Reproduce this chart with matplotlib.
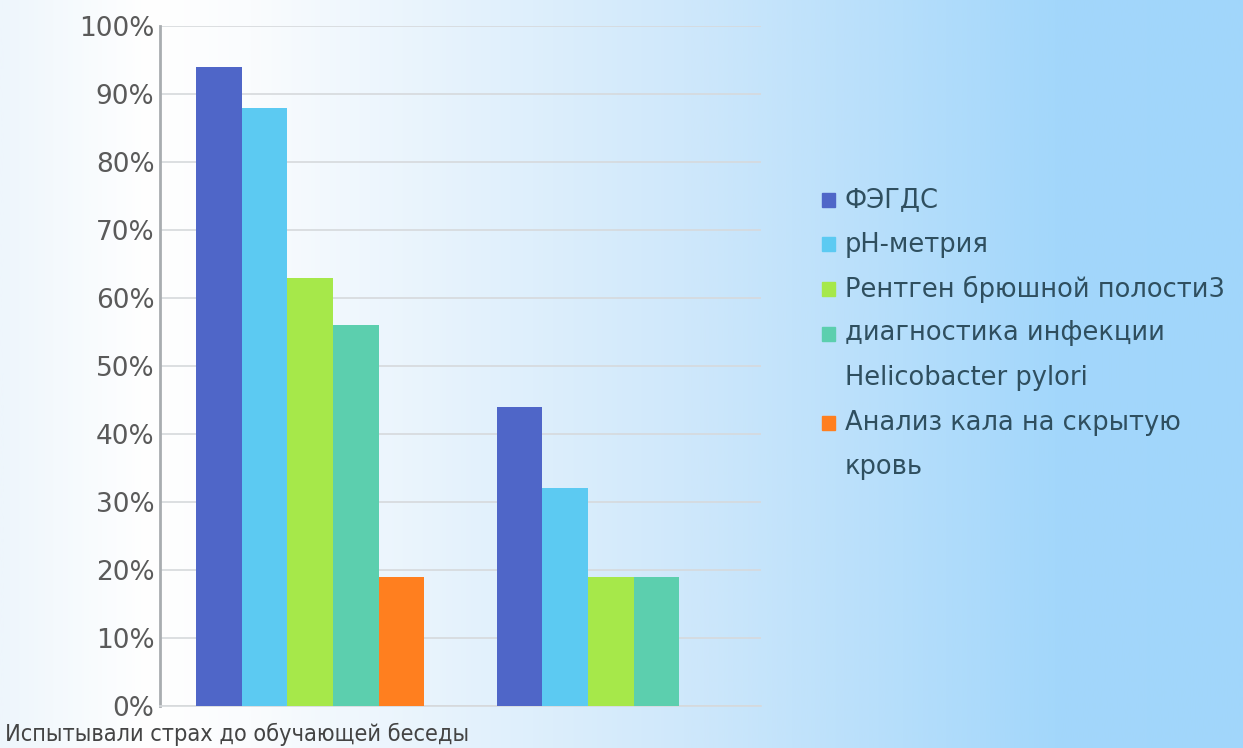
import numpy as np
import matplotlib
matplotlib.use("Agg")
import matplotlib.pyplot as plt
from matplotlib import font_manager
from matplotlib.colors import LinearSegmentedColormap
from matplotlib.patches import Rectangle

categories = ["Испытывали страх до обучающей беседы", ""]
series_names = [
    "ФЭГДС",
    "pH-метрия",
    "Рентген брюшной полости3",
    "диагностика инфекции\nHelicobacter pylori",
    "Анализ кала на скрытую\nкровь",
]
values = [
    [94, 44],
    [88, 32],
    [63, 19],
    [56, 19],
    [19, 0],
]
colors = ["#4f66c8", "#5ccaf2", "#a6e84a", "#5ccfae", "#ff7f1f"]
y_ticks = list(range(0, 101, 10))

# pick a narrow face for the category caption if one is around
fonts = font_manager.fontManager.ttflist
narrow = {"family": "DejaVu Sans", "fontstretch": "normal", "fontsize": 14.5}
if any(f.name == "DejaVu Sans" and f.stretch == "condensed" for f in fonts):
    narrow = {"family": "DejaVu Sans", "fontstretch": "condensed", "fontsize": 16.8}
elif any(f.name == "Liberation Sans Narrow" for f in fonts):
    narrow = {"family": "Liberation Sans Narrow", "fontstretch": "normal", "fontsize": 18}

W, H = 1243, 748
fig = plt.figure(figsize=(W / 100, H / 100), dpi=100)

# background: white on the left fading into light sky blue
bg = fig.add_axes([0, 0, 1, 1], zorder=-10)
cmap = LinearSegmentedColormap.from_list(
    "sky", [(0.0, "#eef6fc"), (0.12, "#ffffff"), (0.2, "#fafcfe"),
            (0.55, "#cfe8fb"), (0.85, "#a3d7fb"), (1.0, "#a1d6fb")])
grad = np.linspace(0, 1, 512).reshape(1, -1)
bg.imshow(grad, aspect="auto", cmap=cmap, extent=[0, 1, 0, 1])
bg.axis("off")

ax = fig.add_axes([160 / W, 42 / H, 601 / W, 680 / H])
ax.patch.set_alpha(0)

x = np.arange(len(categories))
width = 0.152
for i, (name, vals) in enumerate(zip(series_names, values)):
    offset = (i - (len(series_names) - 1) / 2) * width
    ax.bar(x + offset, vals, width, color=colors[i], linewidth=0,
           label=name, zorder=3)

ax.set_xlim(-0.5, 1.5)
ax.set_ylim(0, 100)
ax.set_yticks(y_ticks)
ax.set_yticklabels([f"{t}%" for t in y_ticks], fontsize=19, color="#5a5a5a")
ax.tick_params(axis="y", length=0, pad=4)
ax.set_xticks([])
ax.grid(axis="y", color="#d6d9dc", linewidth=1.2, zorder=0)

for side in ["top", "right"]:
    ax.spines[side].set_visible(False)
ax.spines["left"].set_color("#a9adb0")
ax.spines["left"].set_linewidth(2)
ax.spines["bottom"].set_color("#d6d9dc")
ax.spines["bottom"].set_linewidth(1.2)

fig.text(5 / W, 1 - 734 / H, categories[0], ha="left", va="center",
         color="#444444", **narrow)

# legend drawn by hand: one line every 44.5 px, wrapped names included
line_px = 44.5
line_no = 0
for name, color in zip(series_names, colors):
    y_px = 200 + line_no * line_px
    fig.patches.append(Rectangle((822 / W, 1 - (y_px + 7) / H), 13 / W, 14 / H,
                                 transform=fig.transFigure, color=color))
    for part in name.split("\n"):
        fig.text(845 / W, 1 - (200 + line_no * line_px) / H, part,
                 ha="left", va="center", fontsize=18.5, color="#2f4f5f")
        line_no += 1

fig.savefig("out.png", dpi=100)
